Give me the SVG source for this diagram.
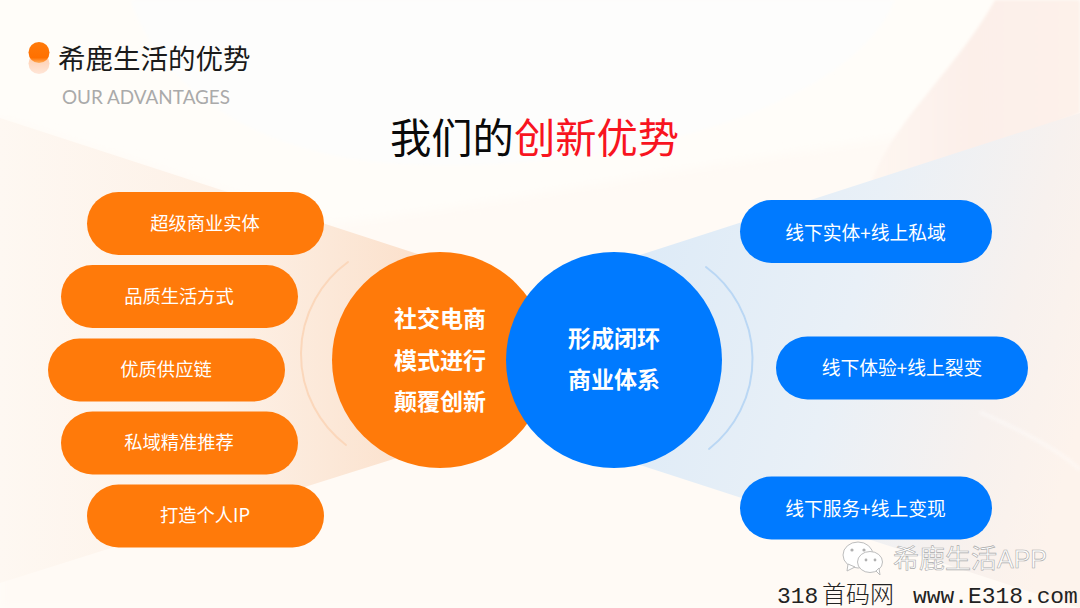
<svg xmlns="http://www.w3.org/2000/svg" width="1080" height="608" viewBox="0 0 1080 608">
<style>
.cjk{font-family:"Noto Sans CJK SC","Noto Sans",sans-serif}
.pill{fill:#ff7a0a}
.bpill{fill:#007aff}
.pt{font-size:18.3px;fill:#fff;text-anchor:middle;font-family:"Noto Sans CJK SC","Noto Sans",sans-serif}
.rt{font-size:18.800px}
.ct{font-size:23px;font-weight:700;fill:#fff;text-anchor:middle;font-family:"Noto Sans CJK SC","Noto Sans",sans-serif}
</style>
<defs>
<filter id="b6" x="-10%" y="-10%" width="120%" height="120%"><feGaussianBlur stdDeviation="5"/></filter>
<filter id="b2" x="-10%" y="-10%" width="120%" height="120%"><feGaussianBlur stdDeviation="1.5"/></filter>
<linearGradient id="lf" gradientUnits="userSpaceOnUse" x1="0" x2="440" y1="0" y2="0"><stop offset="0" stop-color="#fef8f2"/><stop offset="0.5" stop-color="#fdf1e7"/><stop offset="1" stop-color="#fbdfc9"/></linearGradient>
<linearGradient id="rf" gradientUnits="userSpaceOnUse" x1="640" x2="1080" y1="300" y2="420"><stop offset="0" stop-color="#deebf7"/><stop offset="0.45" stop-color="#e9f0f7"/><stop offset="0.8" stop-color="#f7f1ee"/><stop offset="1" stop-color="#fdf3ec"/></linearGradient>
<linearGradient id="pk" gradientUnits="userSpaceOnUse" x1="860" x2="1080" y1="0" y2="0"><stop offset="0" stop-color="#fef7f2"/><stop offset="0.5" stop-color="#fcefe9"/><stop offset="1" stop-color="#fdf1ea"/></linearGradient>
<linearGradient id="dot" x1="0" x2="0" y1="0" y2="1"><stop offset="0" stop-color="#ff7a0a"/><stop offset="0.75" stop-color="#ff7000"/><stop offset="1" stop-color="#ffb060"/></linearGradient>
<linearGradient id="dot2" x1="0" x2="0" y1="0" y2="1"><stop offset="0" stop-color="#ffc9a6"/><stop offset="1" stop-color="#ffe6d8"/></linearGradient>
</defs>
<g id="background">
<rect width="1080" height="608" fill="#fffdf9"/>
<path d="M0 118L330 224C500 205 700 160 1080 113V608H0Z" fill="#fffaf5" filter="url(#b6)"/>
<path d="M130 0C170 110 290 165 430 165C620 170 850 110 895 0Z" fill="#fdfdfc" filter="url(#b2)"/>
<path d="M995 0C950 80 880 130 865 205L920 185L1080 113V0Z" fill="url(#pk)" filter="url(#b2)"/>
<path d="M0 118L430 258L400 457L0 583Z" fill="url(#lf)"/>
<path d="M1080 113L640 255V465L1080 608Z" fill="url(#rf)"/>
<path d="M980 412C1020 430 1060 450 1080 470" fill="none" stroke="#fff" stroke-width="4" opacity="0.35" filter="url(#b2)"/>
</g>
<g id="header">
<circle cx="39" cy="63.500" r="10.500" fill="url(#dot2)"/>
<circle cx="39" cy="52.500" r="10.500" fill="url(#dot)"/>
<text class="cjk" x="58" y="68.500" font-size="27.500" fill="#1a1a1a">希鹿生活的优势</text>
<text x="62" y="103.500" font-family="Lato,sans-serif" font-size="18.900" fill="#aaaaaa">OUR ADVANTAGES</text>
<text class="cjk" x="390" y="152.500" font-size="41.300" fill="#0a0a0a">我们的<tspan fill="#f8141f">创新优势</tspan></text>
</g>
<g id="connectors" fill="none" stroke-width="2" stroke-linecap="round">
<path d="M348 262A114 114 0 0 0 346 445" stroke="#fbd7bb"/>
<path d="M706 267A114.500 114.500 0 0 1 709 449" stroke="#bad7f4"/>
</g>
<g id="node-left-1"><rect class="pill" x="87" y="192" width="237" height="63" rx="31.500"/><text class="pt" x="205" y="230">超级商业实体</text></g>
<g id="node-left-2"><rect class="pill" x="61" y="265" width="237" height="63" rx="31.500"/><text class="pt" x="179" y="303">品质生活方式</text></g>
<g id="node-left-3"><rect class="pill" x="48" y="338.500" width="237" height="63" rx="31.500"/><text class="pt" x="166" y="376">优质供应链</text></g>
<g id="node-left-4"><rect class="pill" x="61" y="411.500" width="237" height="63" rx="31.500"/><text class="pt" x="179" y="449">私域精准推荐</text></g>
<g id="node-left-5"><rect class="pill" x="87" y="484.500" width="237" height="63" rx="31.500"/><text class="pt" x="205" y="522">打造个人IP</text></g>
<g id="node-orange-circle"><circle cx="440" cy="360" r="108" fill="#ff7a0a"/><text class="ct" x="440" y="327">社交电商</text><text class="ct" x="440" y="369">模式进行</text><text class="ct" x="440" y="410">颠覆创新</text></g>
<g id="node-blue-circle"><circle cx="614" cy="360" r="108" fill="#007aff"/><text class="ct" x="614" y="347">形成闭环</text><text class="ct" x="614" y="388">商业体系</text></g>
<g id="node-right-1"><rect class="bpill" x="740" y="200" width="252" height="63" rx="31.500"/><text class="pt rt" x="865.500" y="240">线下实体+线上私域</text></g>
<g id="node-right-2"><rect class="bpill" x="776" y="336.500" width="252" height="63" rx="31.500"/><text class="pt rt" x="902" y="375">线下体验+线上裂变</text></g>
<g id="node-right-3"><rect class="bpill" x="740" y="476.500" width="252" height="63" rx="31.500"/><text class="pt rt" x="865.500" y="516">线下服务+线上变现</text></g>
<g id="watermark">
<g fill="#fff" stroke="#bdbdbd" stroke-width="1">
<ellipse cx="858" cy="555" rx="15" ry="13"/>
<path d="M848 564L847 571L855 567Z"/>
<ellipse cx="870" cy="562" rx="12.500" ry="10.500"/>
<path d="M876 571L880 575L879 568Z"/>
</g>
<g fill="#b0b0b0"><circle cx="852" cy="550" r="1.600"/><circle cx="864" cy="550" r="1.600"/><circle cx="866" cy="560" r="1.400"/><circle cx="875" cy="560" r="1.400"/></g>
<text class="cjk" x="893" y="568" font-size="26" fill="#fff" stroke="#aaaaaa" stroke-width="0.600">希鹿生活<tspan font-family="Liberation Sans,sans-serif" font-size="25">APP</tspan></text>
<text x="777" y="603" font-size="22.900" fill="#222222" font-family="Liberation Mono,monospace">318</text>
<text x="822" y="603" font-size="24" fill="#222222" font-family="Noto Sans CJK SC,sans-serif" font-weight="300">首码网</text>
<text x="913" y="603" font-size="22.900" fill="#222222" font-family="Liberation Mono,monospace">www.E318.com</text>
</g>
</svg>
